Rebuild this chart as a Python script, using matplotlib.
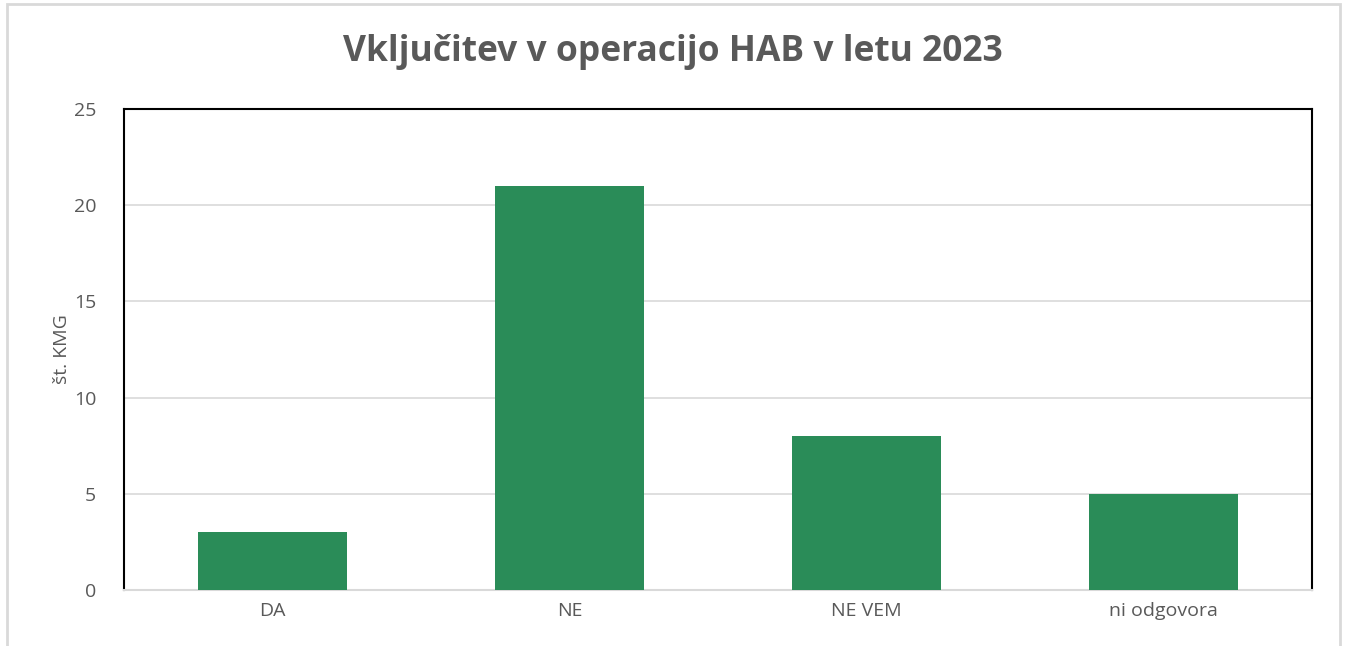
import matplotlib.pyplot as plt
import matplotlib.patheffects as pe
from matplotlib.patches import Rectangle

categories = ['DA', 'NE', 'NE VEM', 'ni odgovora']
values = [3, 21, 8, 5]
title = 'Vključitev v operacijo HAB v letu 2023'
ylabel = 'št. KMG'

plt.rcParams['font.family'] = ['Open Sans', 'DejaVu Sans']

W, H = 1346, 646
fig = plt.figure(figsize=(W / 100, H / 100), dpi=100)

# outer chart border (light gray)
fig.patches.append(Rectangle((7 / W, -0.05), (1340 - 7) / W, 1.05 - 4 / H,
                             transform=fig.transFigure, fill=False,
                             edgecolor='#d9d9d9', linewidth=2))

ax = fig.add_axes([124 / W, 1 - 590 / H, (1312 - 124) / W, (590 - 109) / H])

bars = ax.bar(categories, values, width=0.5, color='#2a8c58', zorder=3)
for b in bars:
    b.set_path_effects([pe.SimplePatchShadow(offset=(0, -2), alpha=0.25,
                                             shadow_rgbFace='#555555'),
                        pe.Normal()])

ax.set_xlim(-0.5, len(categories) - 0.5)
ax.set_ylim(0, 25)
ax.set_yticks(range(0, 26, 5))
ax.grid(axis='y', color='#d9d9d9', linewidth=1.2, zorder=0)
ax.tick_params(axis='both', length=0, labelsize=14, colors='#595959')
ax.tick_params(axis='y', pad=20)
ax.tick_params(axis='x', pad=9)

for s in ['left', 'top', 'right']:
    ax.spines[s].set_color('black')
    ax.spines[s].set_linewidth(1.5)
ax.spines['bottom'].set_color('#d9d9d9')
ax.spines['bottom'].set_linewidth(1.5)

ax.set_ylabel(ylabel, fontsize=14, color='#595959', labelpad=2)
fig.text(673 / W, 1 - 52 / H, title, ha='center', va='center',
         fontsize=25.5, fontweight='bold', color='#595959')

fig.savefig('out.png', dpi=100)
